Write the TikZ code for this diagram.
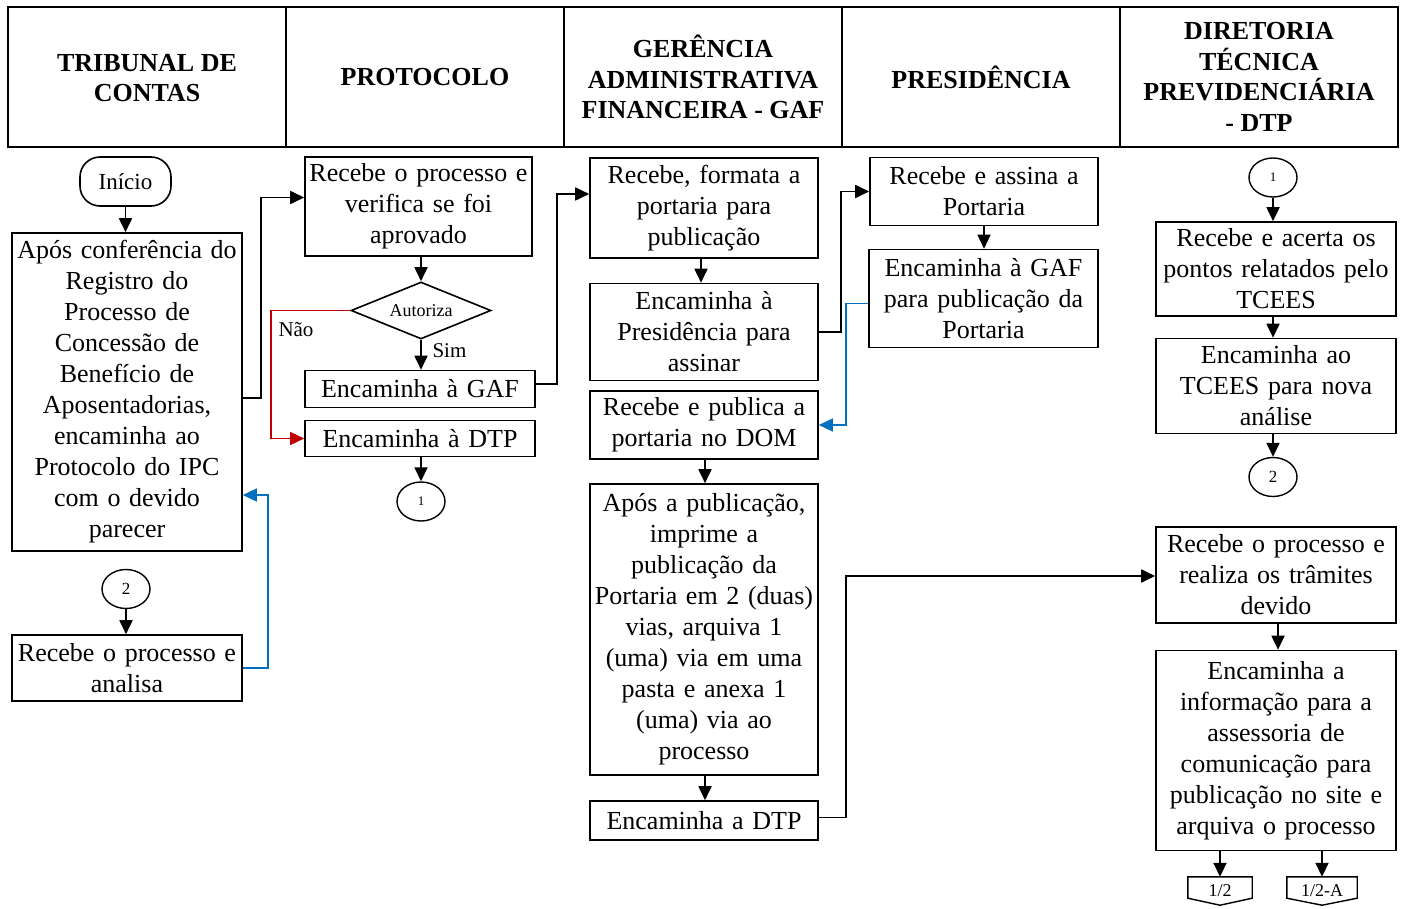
\documentclass[tikz,border=0pt]{standalone}
\usepackage{fontspec}
\setmainfont{Liberation Serif}
\usetikzlibrary{arrows.meta,shapes.geometric,calc}
\definecolor{myred}{RGB}{192,0,0}
\definecolor{myblue}{RGB}{0,112,192}
\begin{document}
\begin{tikzpicture}[x=1pt,y=-1pt,
  box/.style={draw,line width=1.6pt,inner sep=0pt,align=center,font=\fontsize{26}{31}\selectfont},
  hdr/.style={align=center,font=\fontsize{26}{30.5}\selectfont\bfseries},
  circ/.style={draw,ellipse,line width=1.4pt,inner sep=0pt,minimum width=48pt,minimum height=39pt},
  arr/.style={line width=1.8pt,-{Triangle[length=14pt,width=13pt]}},
  redarr/.style={line width=1.5pt,draw=myred,-{Triangle[length=14pt,width=13pt]},myred},
  bluearr/.style={line width=1.5pt,draw=myblue,-{Triangle[length=14pt,width=13pt]},myblue},
  opage/.style={inner sep=0pt,minimum height=28pt,font=\fontsize{18}{20}\selectfont}
]
\useasboundingbox (0,0) rectangle (1405,909);

% header
\draw[line width=2pt] (8,7) rectangle (1398,147);
\foreach \xx in {286,564,842,1120} \draw[line width=2pt] (\xx,7) -- (\xx,147);
\node[hdr] (h1) at (147,78) {TRIBUNAL DE\\CONTAS};
\node[hdr] (h2) at (425,77) {PROTOCOLO};
\node[hdr] (h3) at (703,77) {GERÊNCIA\\ADMINISTRATIVA\\FINANCEIRA - GAF};
\node[hdr] (h4) at (981,77) {PRESIDÊNCIA};
\node[hdr] (h5) at (1259,77) {DIRETORIA\\TÉCNICA\\PREVIDENCIÁRIA\\- DTP};

% Tribunal
\node[draw,line width=1.6pt,rounded corners=20pt,minimum width=91pt,minimum height=49pt,inner sep=0pt,font=\fontsize{23}{26}\selectfont] (inicio) at (125.5,181.5) {Início};
\node[box,minimum width=230pt,minimum height=318pt,text width=228pt] (A) at (127,392)
 {Após conferência do\\Registro do\\Processo de\\Concessão de\\Benefício de\\Aposentadorias,\\encaminha ao\\Protocolo do IPC\\com o devido\\parecer};
\node[circ,font=\fontsize{17}{19}\selectfont] (tc2) at (126,589) {2};
\node[box,minimum width=230pt,minimum height=66pt,text width=228pt] (analisa) at (127,668) {Recebe o processo e\\analisa};

% Protocolo
\node[box,minimum width=227pt,minimum height=99pt,text width=225pt] (prot) at (418.5,206.5) {Recebe o processo e\\verifica se foi\\aprovado};
\node[draw,diamond,line width=1.6pt,inner sep=0pt,aspect=2.46,minimum width=140pt,minimum height=57pt,font=\fontsize{18}{20}\selectfont] (dia) at (421,310.5) {Autoriza};
\node[box,minimum width=230pt,minimum height=37pt,text width=228pt] (encgaf) at (420,389) {Encaminha à GAF};
\node[box,minimum width=230pt,minimum height=36pt,text width=228pt] (encdtp) at (420,438.5) {Encaminha à DTP};
\node[circ,font=\fontsize{13}{15}\selectfont] (pc1) at (421,501.5) {1};

% GAF
\node[box,minimum width=228pt,minimum height=100pt,text width=226pt] (gaf1) at (704,208) {Recebe, formata a\\portaria para\\publicação};
\node[box,minimum width=228pt,minimum height=97pt,text width=226pt] (gaf2) at (704,332) {Encaminha à\\Presidência para\\assinar};
\node[box,minimum width=228pt,minimum height=68pt,text width=226pt] (gaf3) at (704,425) {Recebe e publica a\\portaria no DOM};
\node[box,minimum width=228pt,minimum height=291pt,text width=226pt] (gaf4) at (704,629.5) {Após a publicação,\\imprime a\\publicação da\\Portaria em 2 (duas)\\vias, arquiva 1\\(uma) via em uma\\pasta e anexa 1\\(uma) via ao\\processo};
\node[box,minimum width=228pt,minimum height=39pt,text width=226pt] (gaf5) at (704,820.5) {Encaminha a DTP};

% Presidencia
\node[box,minimum width=228pt,minimum height=68pt,text width=226pt] (pres1) at (984,191.5) {Recebe e assina a\\Portaria};
\node[box,minimum width=229pt,minimum height=98pt,text width=227pt] (pres2) at (983.5,298.5) {Encaminha à GAF\\para publicação da\\Portaria};

% DTP
\node[circ,font=\fontsize{13}{15}\selectfont] (dc1) at (1273,177.5) {1};
\node[box,minimum width=240pt,minimum height=94pt,text width=238pt] (dtp1) at (1276,269) {Recebe e acerta os\\pontos relatados pelo\\TCEES};
\node[box,minimum width=240pt,minimum height=95pt,text width=238pt] (dtp2) at (1276,386) {Encaminha ao\\TCEES para nova\\análise};
\node[circ,font=\fontsize{17}{19}\selectfont] (dc2) at (1273,477) {2};
\node[box,minimum width=240pt,minimum height=96pt,text width=238pt] (dtp3) at (1276,575) {Recebe o processo e\\realiza os trâmites\\devido};
\node[box,minimum width=240pt,minimum height=200pt,text width=238pt] (dtp4) at (1276,750.5) {Encaminha a\\informação para a\\assessoria de\\comunicação para\\publicação no site e\\arquiva o processo};
\node[opage,minimum width=64pt,text depth=-4pt] (op1) at (1220,891) {1/2};
\node[opage,minimum width=70pt,text depth=-4pt] (op2) at (1322,891) {1/2-A};
\foreach \n in {op1,op2}
  \draw[line width=1.4pt] (\n.north west) -- (\n.north east) -- ([yshift=7pt]\n.south east) -- (\n.south) -- ([yshift=7pt]\n.south west) -- cycle;

% connectors
\draw[arr] (inicio.south) -- (inicio.south |- A.north);
\draw[arr] ([yshift=-6pt]A.east) -- ++(18,0) |- ([yshift=9pt]prot.west);
\draw[arr] (dia.north |- prot.south) -- (dia.north);
\draw[arr] (dia.south) -- (dia.south |- encgaf.north);
\node[anchor=west,font=\fontsize{21}{23}\selectfont] (sim) at (429,351) {Sim};
\draw[redarr] (dia.west) -- ++(-79,0) |- (encdtp.west);
\node[font=\fontsize{21}{23}\selectfont] (nao) at (296,330) {Não};
\draw[arr] (pc1.north |- encdtp.south) -- (pc1.north);
\draw[arr] (tc2.south) -- (tc2.south |- analisa.north);
\draw[bluearr] (analisa.east) -- ++(25,0) |- ([yshift=-103pt]A.east);

\draw[arr] ([yshift=5pt]encgaf.east) -- ++(21,0) |- ([yshift=14pt]gaf1.west);
\draw[arr] ([xshift=-3pt]gaf1.south) -- ([xshift=-3pt]gaf2.north);
\draw[arr] (gaf2.east) -- ++(22,0) |- (pres1.west);
\draw[arr] (pres1.south) -- (pres1.south |- pres2.north);
\draw[bluearr] ([yshift=-5pt]pres2.west) -- ++(-22,0) |- (gaf3.east);
\draw[arr] ([xshift=1pt]gaf3.south) -- ([xshift=1pt]gaf4.north);
\draw[arr] ([xshift=1pt]gaf4.south) -- ([xshift=1pt]gaf5.north);
\draw[arr] ([yshift=3pt]gaf5.east) -- ++(27,0) |- ([yshift=-1pt]dtp3.west);

\draw[arr] (dc1.south) -- (dc1.south |- dtp1.north);
\draw[arr] (dc1.south |- dtp1.south) -- (dc1.south |- dtp2.north);
\draw[arr] (dc2.north |- dtp2.south) -- (dc2.north);
\draw[arr] ([xshift=2pt]dtp3.south) -- ([xshift=2pt]dtp4.north);
\draw[arr] (op1.north |- dtp4.south) -- (op1.north);
\draw[arr] (op2.north |- dtp4.south) -- (op2.north);
\end{tikzpicture}
\end{document}
